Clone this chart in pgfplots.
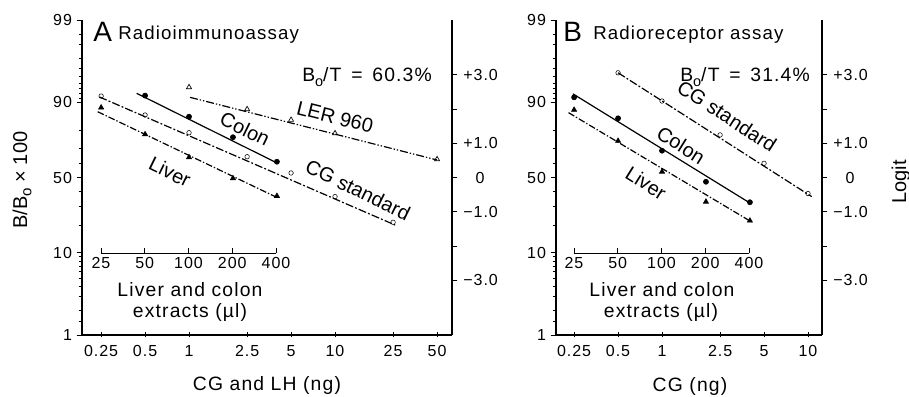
\documentclass[border=0pt]{standalone}
\usepackage{fontspec}
\setmainfont{Liberation Sans}[LetterSpace=6]
\newfontfamily\plainfont{Liberation Sans}
\usepackage{graphicx}
\usepackage{pgfplots}
\pgfplotsset{compat=1.18}
\newcommand{\Bo}{B\raisebox{-0.4ex}{\scalebox{0.75}{o}}}
\newcommand{\myfs}[1]{\fontsize{#1}{#1}\selectfont}
\pgfplotsset{
  zzmain/.style={
    scale only axis, anchor=south west,
    ymin=-4.59512, ymax=4.59512,
    axis lines*=left, tick align=outside,
    axis line style={line width=0.8pt},
    every tick/.style={black, line width=0.6pt},
    major tick length=4pt, minor tick length=2.6pt,
    xminorticks=false,
    xtick style={yshift=2.5pt},
    tick label style={font=\myfs{12}},
    ytick={-4.59512,-2.19722,0,2.19722,4.59512},
    yticklabels={1,10,50,90,99},
    minor ytick={-4.1846,-3.8918,-3.4761,-3.1781,-2.9444,-2.7515,-2.5867,-2.4423,-2.3136,-1.3863,-0.8473,-0.4055,0.4055,0.8473,1.3863,2.3136,2.4423,2.5867,2.7515,2.9444,3.1781,3.4761,3.8918,4.1846},
    clip=false,
  },
  zzright/.style={
    scale only axis, anchor=south west,
    xmin=0, xmax=1, ymin=-4.59512, ymax=4.59512,
    axis x line=none, axis y line*=right, tick align=outside,
    axis line style={line width=0.8pt},
    every tick/.style={black, line width=0.6pt},
    major tick length=4pt,
    ytick={-3,-2,-1,0,1,2,3},
    yticklabels={−3.0,,−1.0,0,+1.0,,+3.0},
    yticklabel style={font=\myfs{12}, text width=2.5em, align=center, anchor=west, xshift=1pt},
  },
  zzinset/.style={
    scale only axis, anchor=south west, width=131.25pt, height=1pt,
    xmin=25, xmax=400, ymin=0, ymax=1,
    axis x line*=bottom, axis y line=none, tick align=inside,
    axis line style={line width=0.6pt},
    every tick/.style={black, line width=0.6pt},
    major tick length=4pt, xminorticks=false,
    xtick={25,50,100,200,400}, xticklabels={25,50,100,200,400},
    tick label style={font=\myfs{12}},
  },
  zzpts/.style={only marks, mark options={solid, line width=0.5pt}},
  zzoc/.style={zzpts, mark=o, mark size=1.7pt, mark options={fill=white}},
  zzfc/.style={zzpts, mark=*, mark size=1.9pt},
  zzft/.style={zzpts, mark=triangle*, mark size=2.2pt},
  zzot/.style={zzpts, mark=triangle, mark size=2.2pt},
  zzfit/.style={no marks, line width=0.9pt, black},
  zzdcg/.style={dash pattern=on 6pt off 1.6pt on 1.4pt off 1.6pt},
  zzdliv/.style={dash pattern=on 5pt off 1.5pt on 1pt off 1.5pt},
  zzdler/.style={dash pattern=on 6pt off 1.5pt on 1pt off 1.5pt on 1pt off 1.5pt},
}
\begin{document}
\begin{tikzpicture}
\useasboundingbox (0,0) rectangle (681.75pt,297pt);
% ---------------- Panel A ----------------
\begin{axis}[xmode=log, zzmain, at={(61.5pt,45.75pt)}, width=277.5pt, height=236.25pt,
  xmin=0.1849, xmax=63.3, y filter/.expression={ln(y/(100-y))},
  xtick={0.25,0.5,1,2.5,5,10,25,50}, xticklabels={0.25,0.5,1,2.5,5,10,25,50}]
% CG standard
\addplot[zzoc] coordinates {(0.25,91.5) (0.5,86.1) (1,78.7) (2.5,64.7) (5,53.3) (10,36.4) (25,21.3)};
\addplot[zzfit, zzdcg] coordinates {(0.243,91.3) (25.8,20.0)};
% Colon (x: 50,100,200,400 ul)
\addplot[zzfc] coordinates {(0.5,91.6) (1,85.5) (2,76.4) (4,61.3)};
\addplot[zzfit] coordinates {(0.438,92.1) (4.07,60.1)};
% Liver (x: 25..400 ul)
\addplot[zzft] coordinates {(0.25,88.5) (0.5,77.9) (1,64.3) (2,49.4) (4,36.8)};
\addplot[zzfit, zzdliv] coordinates {(0.237,87.2) (4.07,35.5)};
% LER 960
\addplot[zzot] coordinates {(1,93.3) (2.5,88.0) (5,84.3) (10,78.4) (50,63.0)};
\addplot[zzfit, zzdler] coordinates {(1.016,91.2) (50,62.5)};
\end{axis}
\begin{axis}[zzright, at={(61.5pt,45.75pt)}, width=277.5pt, height=236.25pt]
\end{axis}
\begin{axis}[xmode=log, zzinset, at={(75.75pt,107.25pt)}]
\end{axis}
% ---------------- Panel B ----------------
\begin{axis}[xmode=log, zzmain, at={(417pt,45.75pt)}, width=199.5pt, height=236.25pt,
  xmin=0.1879, xmax=12.47, y filter/.expression={ln(y/(100-y))},
  xtick={0.25,0.5,1,2.5,5,10}, xticklabels={0.25,0.5,1,2.5,5,10}]
% CG standard
\addplot[zzoc] coordinates {(0.5,95.5) (1,90.3) (2.5,77.6) (5,60.2) (10,38.5)};
\addplot[zzfit, zzdcg] coordinates {(0.5,95.5) (10.6,36.4)};
% Colon
\addplot[zzfc] coordinates {(0.25,91.2) (0.5,84.9) (1,68.6) (2,46.9) (4,32.7)};
\addplot[zzfit] coordinates {(0.245,92.0) (4.1,31.6)};
% Liver
\addplot[zzft] coordinates {(0.25,87.8) (0.5,74.4) (1,54.2) (2,33.0) (4,22.1)};
\addplot[zzfit, zzdliv] coordinates {(0.229,86.9) (4.1,21.5)};
\end{axis}
\begin{axis}[zzright, at={(417pt,45.75pt)}, width=199.5pt, height=236.25pt]
\end{axis}
\begin{axis}[xmode=log, zzinset, at={(430.5pt,107.25pt)}]
\end{axis}
% ---------------- Text ----------------
\begin{scope}[x=0.75pt, y=-0.75pt, shift={(0,297pt)}]
\node[anchor=base west, inner sep=0] at (93,42) {\myfs{21}A};
\node[anchor=base west, inner sep=0] at (118,40) {\myfs{14}Radioimmunoassay};
\node[anchor=base west, inner sep=0] at (302,82) {\myfs{14.5}\Bo/T\, =\, 60.3\%};
\node[rotate=-26] at (245,129) {\plainfont\myfs{15}Colon};
\node[rotate=-26] at (170,172) {\plainfont\myfs{15}Liver};
\node[rotate=-14] at (335,117) {\plainfont\myfs{15}LER 960};
\node[rotate=-26] at (358,190) {\plainfont\myfs{15}CG standard};
\node at (190,290) {\myfs{14.5}Liver and colon};
\node at (190,313) {\myfs{14.5}extracts (µl)};
\node at (267,385) {\myfs{14.5}CG and LH (ng)};
\node[rotate=90] at (22,180) {\plainfont\myfs{15}B/\Bo\ × 100};
\node[anchor=base west, inner sep=0] at (563,42) {\myfs{21}B};
\node[anchor=base west, inner sep=0] at (593,40) {\myfs{14}Radioreceptor assay};
\node[anchor=base west, inner sep=0] at (680,82) {\myfs{14.5}\Bo/T\, =\, 31.4\%};
\node[rotate=-33] at (727,116) {\plainfont\myfs{15}CG standard};
\node[rotate=-32] at (681,145) {\plainfont\myfs{15}Colon};
\node[rotate=-32] at (646,183) {\plainfont\myfs{15}Liver};
\node at (662,290) {\myfs{14.5}Liver and colon};
\node at (661,313) {\myfs{14.5}extracts (µl)};
\node at (690,387) {\myfs{14.5}CG (ng)};
\node[rotate=90] at (901,182) {\plainfont\myfs{15}Logit};
\end{scope}
\end{tikzpicture}
\end{document}
